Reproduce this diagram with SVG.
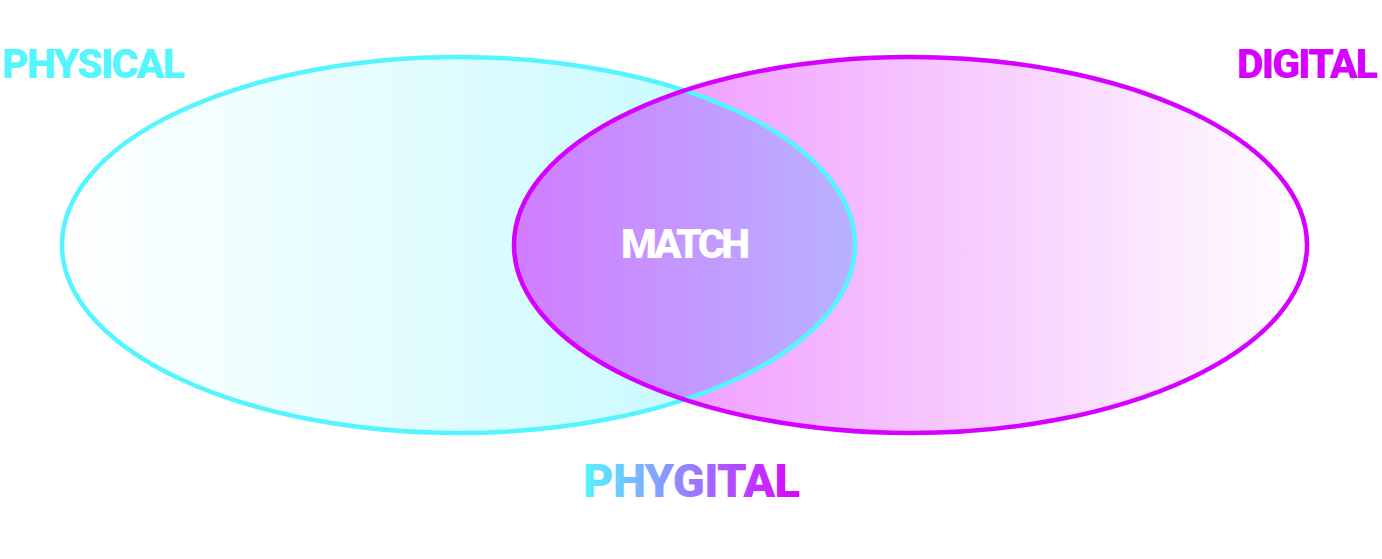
<svg xmlns="http://www.w3.org/2000/svg" width="1382" height="559" viewBox="0 0 1382 559">
<style>
.lbl{font-family:Roboto,"Liberation Sans",sans-serif;font-weight:900;}
</style>
<defs>
<linearGradient id="gc" gradientUnits="userSpaceOnUse" x1="62" y1="0" x2="855" y2="0">
<stop offset="0" stop-color="#ffffff"/>
<stop offset="1" stop-color="#bcf9ff"/>
</linearGradient>
<linearGradient id="gm" gradientUnits="userSpaceOnUse" x1="514" y1="0" x2="1307" y2="0">
<stop offset="0" stop-color="#ec86ff"/>
<stop offset="1" stop-color="#ffffff"/>
</linearGradient>
<linearGradient id="gi" gradientUnits="userSpaceOnUse" x1="514" y1="0" x2="855" y2="0">
<stop offset="0" stop-color="#d07cff"/>
<stop offset="1" stop-color="#b8b2ff"/>
</linearGradient>
<linearGradient id="gt" gradientUnits="userSpaceOnUse" x1="583" y1="0" x2="801" y2="0">
<stop offset="0" stop-color="#55f5ff"/>
<stop offset="1" stop-color="#dd00ff"/>
</linearGradient>
<clipPath id="cc"><ellipse cx="458.5" cy="245" rx="396.5" ry="188"/></clipPath>
</defs>
<g id="physical">
<ellipse cx="458.5" cy="245" rx="396.5" ry="188" fill="url(#gc)"/>
</g>
<g id="digital">
<ellipse cx="910.5" cy="245" rx="396.5" ry="188" fill="url(#gm)"/>
</g>
<g id="match">
<ellipse cx="910.5" cy="245" rx="396.5" ry="188" fill="url(#gi)" clip-path="url(#cc)"/>
</g>
<g id="outlines" fill="none" stroke-width="4.5">
<ellipse cx="458.5" cy="245" rx="396.5" ry="188" stroke="#55f5ff"/>
<ellipse cx="910.5" cy="245" rx="396.5" ry="188" stroke="#d500ff"/>
</g>
<g id="labels">
<text class="lbl" x="2" y="78" font-size="41" fill="#55f5ff" textLength="183" lengthAdjust="spacing">PHYSICAL</text>
<text class="lbl" x="1237" y="78" font-size="41" fill="#d500ff" textLength="141" lengthAdjust="spacing">DIGITAL</text>
<text class="lbl" x="621" y="258" font-size="41" fill="#ffffff" textLength="129" lengthAdjust="spacing">MATCH</text>
<text class="lbl" x="583" y="497" font-size="47" fill="url(#gt)" textLength="217" lengthAdjust="spacing">PHYGITAL</text>
</g>
</svg>
